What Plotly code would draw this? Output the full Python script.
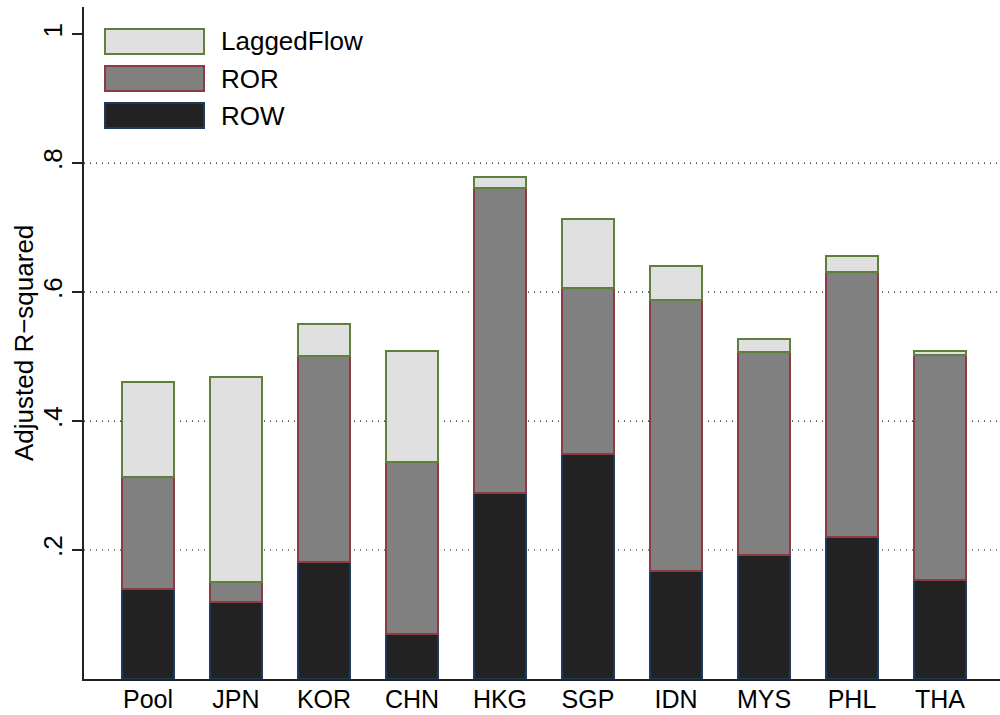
import plotly.graph_objects as go

# Adjusted R-squared contributions by regressor block, per market
countries = ["Pool", "JPN", "KOR", "CHN", "HKG", "SGP", "IDN", "MYS", "PHL", "THA"]
row_r2 = [0.140, 0.119, 0.181, 0.070, 0.289, 0.349, 0.167, 0.192, 0.220, 0.153]
ror_r2 = [0.174, 0.031, 0.320, 0.266, 0.472, 0.257, 0.421, 0.315, 0.411, 0.350]
lagged_r2 = [0.147, 0.319, 0.049, 0.173, 0.018, 0.107, 0.053, 0.020, 0.025, 0.006]

y_ticks = [0.2, 0.4, 0.6, 0.8, 1.0]
y_tick_labels = [".2", ".4", ".6", ".8", "1"]
grid_levels = [0.2, 0.4, 0.6, 0.8]

W, H = 1000, 715
ML, MR, MT, MB = 84, 0, 7, 36
PW, PH = W - ML - MR, H - MT - MB

FONT = "Liberation Sans, Arial, Helvetica, sans-serif"
FS = 26

series = [
    ("ROW", row_r2, "#222222", "#1c3b5a"),
    ("ROR", ror_r2, "#808080", "#8e3a44"),
    ("LaggedFlow", lagged_r2, "#e0e0e0", "#5f7f3c"),
]

fig = go.Figure()
for name, vals, fill, edge in series:
    fig.add_trace(go.Bar(
        x=list(range(len(countries))), y=vals, name=name,
        width=0.6, marker=dict(color=fill, line=dict(color=edge, width=2)),
        showlegend=False,
    ))


def px_x(p):
    return (p - ML) / PW


def px_y(p):
    return (H - MB - p) / PH


shapes = []
# dotted reference lines behind the bars
for g in grid_levels:
    shapes.append(dict(type="line", xref="paper", yref="y", x0=0, x1=1, y0=g, y1=g,
                       layer="below", line=dict(color="#111111", width=1.2, dash="1px,5px")))

# legend keys (top-left, stacked from the top series down)
annotations = []
legend_rows = [("LaggedFlow", "#e0e0e0", "#5f7f3c"),
               ("ROR", "#808080", "#8e3a44"),
               ("ROW", "#222222", "#1c3b5a")]
for i, (name, fill, edge) in enumerate(legend_rows):
    top = 29 + 37 * i
    shapes.append(dict(type="rect", xref="paper", yref="paper",
                       x0=px_x(105), x1=px_x(204), y0=px_y(top + 25), y1=px_y(top),
                       fillcolor=fill, line=dict(color=edge, width=2)))
    annotations.append(dict(xref="paper", yref="paper", x=px_x(219), y=px_y(top + 12.5),
                            text=name, showarrow=False, xanchor="left", yanchor="middle",
                            font=dict(family=FONT, size=FS, color="#000000")))

annotations.append(dict(xref="paper", yref="paper", x=px_x(24), y=0.5,
                        text="Adjusted R\u2212squared", textangle=-90, showarrow=False,
                        xanchor="center", yanchor="middle",
                        font=dict(family=FONT, size=FS, color="#000000")))

fig.update_layout(
    width=W, height=H,
    margin=dict(l=ML, r=MR, t=MT, b=MB, pad=0, autoexpand=False),
    barmode="stack",
    plot_bgcolor="white", paper_bgcolor="white",
    font=dict(family=FONT, size=FS, color="#000000"),
    shapes=shapes, annotations=annotations,
    xaxis=dict(
        range=[-0.727, -0.727 + PW / 88.0],
        tickvals=list(range(len(countries))), ticktext=countries,
        showline=True, linecolor="#222222", linewidth=2,
        ticks="", showgrid=False, zeroline=False, automargin=False,
        tickfont=dict(family=FONT, size=25, color="#000000"),
        ticklabelstandoff=-3,
    ),
    yaxis=dict(
        range=[0, 1.042],
        tickvals=y_ticks, ticktext=y_tick_labels, tickangle=-90,
        showline=True, linecolor="#222222", linewidth=2,
        ticks="outside", ticklen=10, tickwidth=2, tickcolor="#222222",
        showgrid=False, zeroline=False, automargin=False,
        tickfont=dict(family=FONT, size=FS, color="#000000"),
    ),
)

fig.write_html("out.html")
